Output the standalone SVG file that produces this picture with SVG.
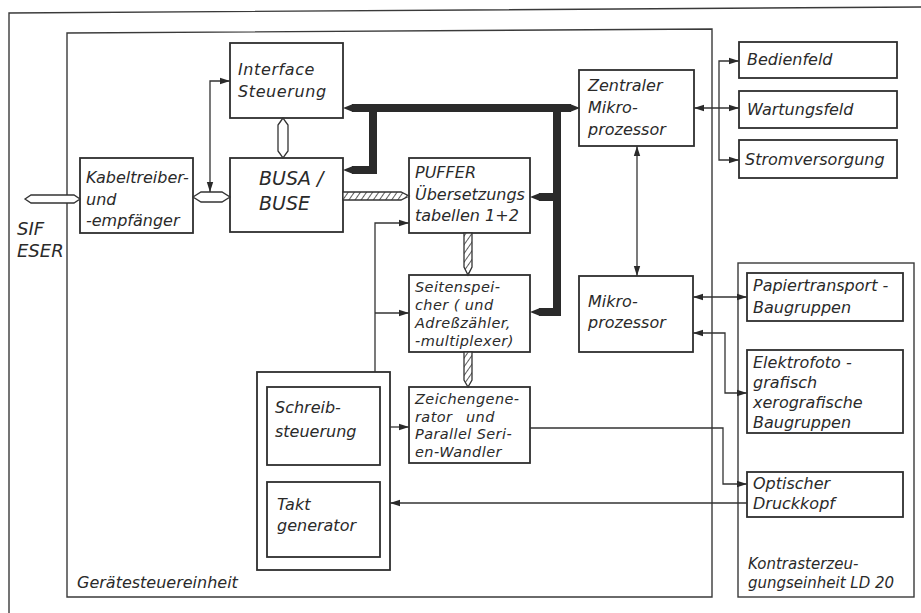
<svg xmlns="http://www.w3.org/2000/svg" width="921" height="613" viewBox="0 0 921 613">
<style>
.box{fill:none;stroke:#2e2e2e;stroke-width:1.8}
.frame{fill:none;stroke:#3a3a3a;stroke-width:1.4}
.t{font-family:"DejaVu Sans","Liberation Sans",sans-serif;font-style:oblique;font-size:16px;fill:#2a2a2a}
.big{font-size:19px}
.sm{font-size:14.5px;letter-spacing:0.4px}
.ln{fill:none;stroke:#333;stroke-width:1.3}
.bus{fill:none;stroke:#2a2a2a;stroke-width:8;stroke-linejoin:miter}
.tip{fill:#2a2a2a}
.hol{fill:#fff;stroke:#333;stroke-width:1.3}
.hat{fill:url(#hatch);stroke:#333;stroke-width:1.3}
</style>
<defs>
<marker id="arr" viewBox="0 0 10 8" refX="10" refY="4" markerWidth="10" markerHeight="8" markerUnits="userSpaceOnUse" orient="auto-start-reverse">
<path d="M0,0.8 L10,4 L0,7.2 Z" fill="#2a2a2a"/>
</marker>
<pattern id="hatch" patternUnits="userSpaceOnUse" width="5" height="5" patternTransform="rotate(35)">
<rect width="5" height="5" fill="#fff"/>
<line x1="0" y1="0" x2="0" y2="5" stroke="#333" stroke-width="1.6"/>
</pattern>
</defs>
<rect width="921" height="613" fill="#fff"/>

<g id="outer-frame">
<path class="frame" d="M9,613 L9,13 L921,7"/>
</g>
<g id="geraetesteuereinheit">
<path class="frame" d="M67,597 L67,33 L712,29 L712,597 Z"/>
<text class="t" x="77" y="588">Gerätesteuereinheit</text>
</g>
<g id="kontrasterzeugungseinheit">
<rect class="frame" x="738" y="263" width="176" height="334"/>
<text class="t" x="748" y="569" style="font-size:15px">Kontrasterzeu-</text>
<text class="t" x="748" y="588" style="font-size:15px">gungseinheit LD 20</text>
</g>

<g id="sif-eser">
<text class="t" x="17" y="235" style="font-size:18px">SIF</text>
<text class="t" x="17" y="257" style="font-size:18px">ESER</text>
</g>
<g id="kabeltreiber">
<rect class="box" x="80" y="158" width="113" height="75"/>
<text class="t" x="86" y="183">Kabeltreiber-</text>
<text class="t" x="86" y="205">und</text>
<text class="t" x="86" y="226">-empfänger</text>
</g>
<g id="interface">
<rect class="box" x="230" y="43" width="113" height="75"/>
<text class="t" x="238" y="75" style="letter-spacing:0.6px">Interface</text>
<text class="t" x="238" y="97" style="letter-spacing:0.6px">Steuerung</text>
</g>
<g id="busa">
<rect class="box" x="230" y="158" width="113" height="74"/>
<text class="t big" x="259" y="185">BUSA /</text>
<text class="t big" x="259" y="210">BUSE</text>
</g>
<g id="puffer">
<rect class="box" x="409" y="158" width="121" height="75"/>
<text class="t" x="415" y="178">PUFFER</text>
<text class="t" x="415" y="200">Übersetzungs</text>
<text class="t" x="415" y="221">tabellen 1+2</text>
</g>
<g id="seitenspeicher">
<rect class="box" x="409" y="275" width="121" height="77"/>
<text class="t sm" x="415" y="292">Seitenspei-</text>
<text class="t sm" x="415" y="310">cher ( und</text>
<text class="t sm" x="415" y="328">Adreßzähler,</text>
<text class="t sm" x="415" y="346">-multiplexer)</text>
</g>
<g id="zeichengenerator">
<rect class="box" x="409" y="387" width="121" height="76"/>
<text class="t sm" x="415" y="404">Zeichengene-</text>
<text class="t sm" x="415" y="421.5">rator<tspan x="466">und</tspan></text>
<text class="t sm" x="415" y="439">Parallel Seri-</text>
<text class="t sm" x="415" y="456.5">en-Wandler</text>
</g>
<g id="schreib-takt-gruppe">
<rect class="box" x="257" y="372" width="133" height="198"/>
</g>
<g id="schreibsteuerung">
<rect class="box" x="267" y="387" width="113" height="78"/>
<text class="t" x="275" y="413">Schreib-</text>
<text class="t" x="275" y="437">steuerung</text>
</g>
<g id="taktgenerator">
<rect class="box" x="267" y="482" width="113" height="75"/>
<text class="t" x="277" y="510">Takt</text>
<text class="t" x="277" y="531">generator</text>
</g>
<g id="zentraler-mikroprozessor">
<rect class="box" x="579" y="70" width="115" height="76"/>
<text class="t" x="588" y="91">Zentraler</text>
<text class="t" x="588" y="113">Mikro-</text>
<text class="t" x="588" y="135">prozessor</text>
</g>
<g id="mikroprozessor">
<rect class="box" x="579" y="276" width="114" height="76"/>
<text class="t" x="588" y="307">Mikro-</text>
<text class="t" x="588" y="328">prozessor</text>
</g>
<g id="bedienfeld">
<rect class="box" x="739" y="42" width="158" height="36"/>
<text class="t" x="747" y="65">Bedienfeld</text>
</g>
<g id="wartungsfeld">
<rect class="box" x="739" y="91" width="158" height="37"/>
<text class="t" x="747" y="115">Wartungsfeld</text>
</g>
<g id="stromversorgung">
<rect class="box" x="739" y="140" width="158" height="38"/>
<text class="t" x="745" y="165">Stromversorgung</text>
</g>
<g id="papiertransport">
<rect class="box" x="747" y="273" width="156" height="48"/>
<text class="t" x="753" y="291">Papiertransport -</text>
<text class="t" x="753" y="313">Baugruppen</text>
</g>
<g id="elektrofoto">
<rect class="box" x="747" y="350" width="156" height="83"/>
<text class="t" x="753" y="368">Elektrofoto -</text>
<text class="t" x="753" y="388">grafisch</text>
<text class="t" x="753" y="408">xerografische</text>
<text class="t" x="753" y="428">Baugruppen</text>
</g>
<g id="optischer-druckkopf">
<rect class="box" x="747" y="472" width="156" height="45"/>
<text class="t" x="753" y="489">Optischer</text>
<text class="t" x="753" y="509">Druckkopf</text>
</g>

<g id="connectors">
<path class="bus" d="M352,108 H571 M373,108 V170 H352 M557,108 V312 H539 M557,197 H539"/>
<polygon class="tip" points="343,108 353,104 353,112"/>
<polygon class="tip" points="580,108 570,104 570,112"/>
<polygon class="tip" points="343,170 353,166 353,174"/>
<polygon class="tip" points="530,197 540,193 540,201"/>
<polygon class="tip" points="530,312 540,308 540,316"/>

<polygon class="hol" points="25,199 31,195 74,195 80,199 74,203 31,203"/>
<polygon class="hol" points="193,197 201,192 222,192 230,197 222,202 201,202"/>
<polygon class="hol" points="283,118 278,125 278,151 283,158 288,151 288,125"/>

<polygon class="hat" points="343,192 401,192 409,196 401,200 343,200"/>
<polygon class="hat" points="464,233 472,233 472,267 468,275 464,267"/>
<polygon class="hat" points="464,352 472,352 472,380 468,387 464,380"/>

<path class="ln" d="M230,81 H210 V192" marker-start="url(#arr)" marker-end="url(#arr)"/>
<path class="ln" d="M694,108 H739" marker-start="url(#arr)" marker-end="url(#arr)"/>
<path class="ln" d="M719,108 V61 H739" marker-end="url(#arr)"/>
<path class="ln" d="M719,108 V160 H739" marker-end="url(#arr)"/>
<path class="ln" d="M637,146 V276" marker-start="url(#arr)" marker-end="url(#arr)"/>
<path class="ln" d="M693,297 H747" marker-start="url(#arr)" marker-end="url(#arr)"/>
<path class="ln" d="M693,333 H725 V393 H747" marker-start="url(#arr)" marker-end="url(#arr)"/>
<path class="ln" d="M530,428 H723 V484 H747" marker-end="url(#arr)"/>
<path class="ln" d="M747,503 H390" marker-end="url(#arr)"/>
<path class="ln" d="M390,427 H409" marker-end="url(#arr)"/>
<path class="ln" d="M375,372 V223 H409" marker-end="url(#arr)"/>
<path class="ln" d="M375,313 H409" marker-end="url(#arr)"/>
</g>
</svg>
